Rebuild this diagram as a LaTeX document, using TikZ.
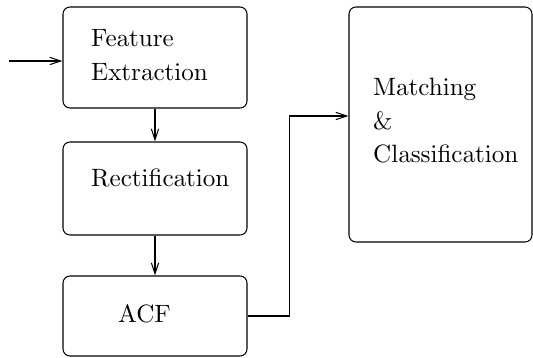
\documentclass[tikz,border=0pt]{standalone}
\usepackage{tikz}
\usetikzlibrary{arrows.meta, positioning, calc}
\font\labelfont=cmr10 at 21.4pt

\begin{document}
\begin{tikzpicture}[
  stagebox/.style={draw, line width=0.9pt, rounded corners=6pt, minimum width=5.52cm, inner sep=0pt},
  lbl/.style={anchor=west, align=left, inner sep=0pt, font=\fontsize{21.4}{28.9}\selectfont\labelfont},
  arr/.style={-{Straight Barb[length=3.3mm, width=2.2mm]}, line width=0.9pt}
]
  \useasboundingbox (0,0) rectangle (15.99,-10.74);

  % Processing chain
  \node[stagebox, minimum height=3.03cm] (fe) at (4.65,-1.725) {};
  \node[stagebox, minimum height=2.79cm] (rect) at (4.65,-5.655) {};
  \node[stagebox, minimum height=2.4cm] (acf) at (4.65,-9.48) {};

  % Matching
  \node[stagebox, minimum width=5.49cm, minimum height=7.05cm] (match) at (13.215,-3.735) {};

  % Labels
  \node[lbl] (fetxt) at (2.73,-1.66) {Feature\\Extraction};
  \node[lbl] (recttxt) at (2.73,-5.34) {Rectification};
  \node[lbl] (acftxt) at (3.54,-9.42) {ACF};
  \node[lbl] (matchtxt) at (11.19,-3.61) {Matching\\\&\\Classification};

  % Arrows
  \coordinate (in) at (0.27,-1.83);
  \draw[arr] (in) -- (in -| fe.west);
  \draw[arr] (fe.south) -- (rect.north);
  \draw[arr] (rect.south) -- (acf.north);
  \draw[arr] (acf.east) -- ++(1.26,0) |- ([yshift=0.255cm]match.west);
\end{tikzpicture}
\end{document}
